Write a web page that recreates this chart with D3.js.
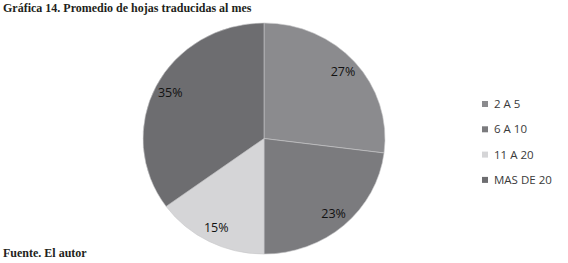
<!DOCTYPE html>
<html>
<head>
<meta charset="utf-8">
<script src="https://cdn.jsdelivr.net/npm/d3@7"></script>
<style>
    body { margin: 0; background: #fff; }
    svg { display: block; }
</style>
</head>
<body>
<svg id="chart" width="568" height="263"></svg>
<script>
// data
var categories = ['2 A 5', '6 A 10', '11 A 20', 'MAS DE 20'];
var values = [27, 23, 15, 35];
var colors = ['#8b8b8e', '#7b7b7e', '#d5d5d7', '#6d6d70'];

var svg = d3.select('#chart');

// title and source
svg.append('text')
    .attr('x', 3).attr('y', 12)
    .style('font-family', '"Liberation Serif", serif')
    .style('font-weight', 'bold')
    .style('font-size', '12px')
    .attr('fill', '#231f20')
    .text('Gráfica 14. Promedio de hojas traducidas al mes');

svg.append('text')
    .attr('x', 3).attr('y', 257)
    .style('font-family', '"Liberation Serif", serif')
    .style('font-weight', 'bold')
    .style('font-size', '12px')
    .attr('fill', '#231f20')
    .text('Fuente. El autor');

// pie (picture is slightly squashed vertically)
var cx = 264, cy = 138.5, r = 121, sy = 0.955;

var pie = d3.pie().sort(null).value(function(d){ return d; });
var arcs = pie(values);
var arc = d3.arc().innerRadius(0).outerRadius(r);
var labelArc = d3.arc().innerRadius(r * 0.87).outerRadius(r * 0.87);

var g = svg.append('g')
    .attr('transform', 'translate(' + cx + ',' + cy + ') scale(1,' + sy + ')');

g.selectAll('path')
    .data(arcs)
    .enter()
    .append('path')
    .attr('d', arc)
    .attr('fill', function(d, i){ return colors[i]; })
    .attr('stroke', '#c8c8ca')
    .attr('stroke-width', 0.6);

svg.append('g')
    .attr('transform', 'translate(' + cx + ',' + cy + ')')
    .selectAll('text')
    .data(arcs)
    .enter()
    .append('text')
    .attr('x', function(d){ return labelArc.centroid(d)[0]; })
    .attr('y', function(d){ return labelArc.centroid(d)[1] * sy; })
    .attr('dy', '0.35em')
    .attr('text-anchor', 'middle')
    .style('font-family', '"Open Sans", sans-serif')
    .style('font-size', '12.5px')
    .attr('fill', '#111')
    .text(function(d){ return d.value + '%'; });

// legend
var legend = svg.append('g')
    .selectAll('g')
    .data(categories)
    .enter()
    .append('g')
    .attr('transform', function(d, i){ return 'translate(482,' + (101 + i * 25.3) + ')'; });

legend.append('rect')
    .attr('width', 6).attr('height', 6)
    .attr('fill', function(d, i){ return colors[i]; });

legend.append('text')
    .attr('x', 12).attr('y', 3)
    .attr('dy', '0.35em')
    .style('font-family', '"Open Sans", sans-serif')
    .style('font-size', '11.5px')
    .attr('fill', '#3a3a3a')
    .text(function(d){ return d; });
</script>
</body>
</html>
